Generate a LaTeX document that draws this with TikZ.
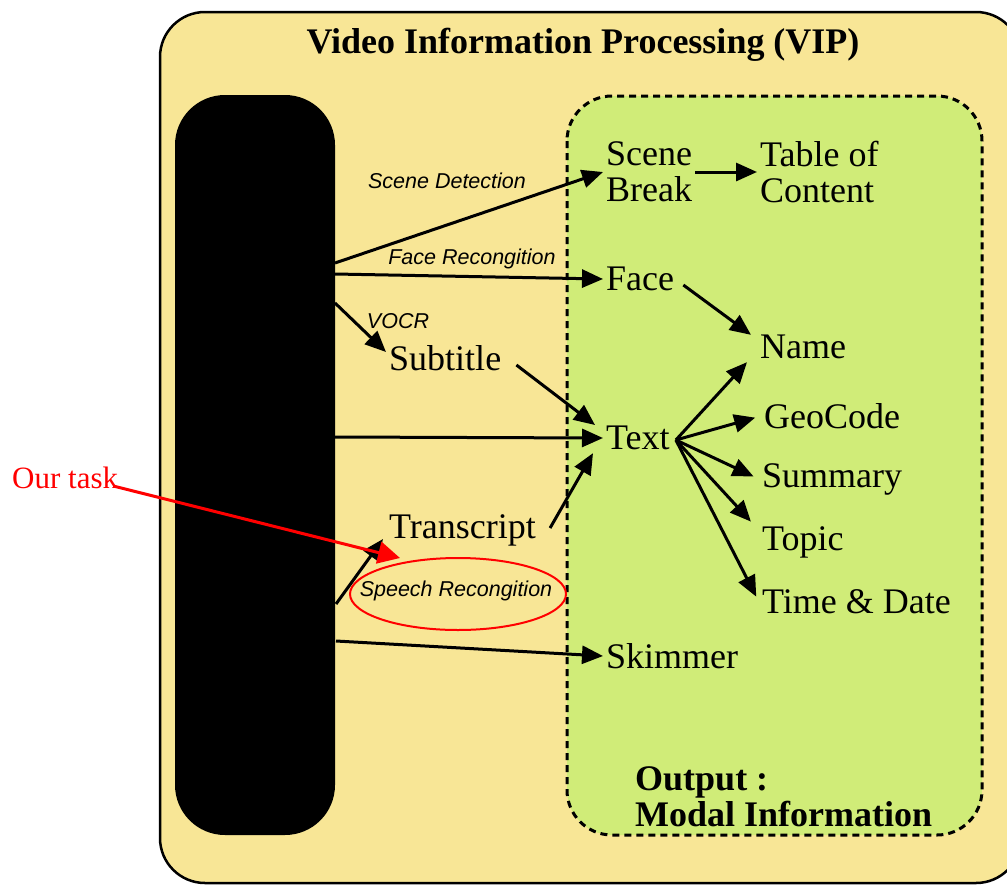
\documentclass[tikz,border=0pt]{standalone}
\usepackage{fontspec}
\setmainfont{Liberation Serif}
\setsansfont{Liberation Sans}
\usepackage{tikz}
\usetikzlibrary{arrows.meta,positioning,calc,shapes.geometric}
\definecolor{vipyellow}{RGB}{248,230,150}
\definecolor{vipgreen}{RGB}{208,236,120}

\begin{document}
\begin{tikzpicture}[x=1pt,y=-1pt,>={Triangle[length=21pt,width=18pt]},
  lbl/.style={anchor=west,inner sep=3pt,align=left,font=\fontsize{36}{36}\selectfont},
  op/.style={inner sep=1pt,font=\fontsize{21.5}{24}\sffamily\itshape\selectfont},
  arr/.style={->,line width=3pt},
  fan/.style={arr,shorten >=6pt}]
\useasboundingbox (0,0) rectangle (1007,884);
\clip (0,0) rectangle (1007,884);
% frames
\draw[line width=2.5pt,fill=vipyellow,rounded corners=45pt] (160,12) rectangle (1021,883);
\draw[line width=3pt,dash pattern=on 7pt off 5pt,fill=vipgreen,rounded corners=45pt] (567,96) rectangle (982,835);
\node[fill=black,rounded corners=50pt,minimum width=160pt,minimum height=740pt,inner sep=0pt] (V) at (255,465) {};
\node[font=\fontsize{36}{36}\bfseries\selectfont] (title) at (583,45) {Video Information Processing (VIP)};
% outputs
\node[lbl] (scene) at (603,172) {Scene\\Break};
\node[lbl] (toc)   at (757,172) {Table of\\Content};
\node[lbl] (face)  at (603,279) {Face};
\node[lbl] (name)  at (757,347) {Name};
\node[lbl] (sub)   at (386,358) {Subtitle};
\node[lbl] (txt)   at (603,438) {Text};
\node[lbl] (geo)   at (761,416) {GeoCode};
\node[lbl] (summ)  at (759,479) {Summary};
\node[lbl] (topic) at (759,542) {Topic};
\node[lbl] (td)    at (759,602) {Time \& Date};
\node[lbl] (trans) at (386,530) {Transcript};
\node[lbl] (skim)  at (603,656) {Skimmer};
\node[lbl,font=\fontsize{36}{36}\bfseries\selectfont] (out) at (632,797) {Output :\\Modal Information};
% operations
\node[op] (sd)   at (447,181) {Scene Detection};
\node[op] (fr)   at (472,259) {Face Recongition};
\node[op] (vocr) at (398,321) {VOCR};
\node[op] (sr)   at (456,591) {Speech Recongition};
\draw[red,line width=2pt] (458,594) ellipse [x radius=108pt,y radius=36pt];
\node[lbl,text=red,font=\fontsize{31}{31}\selectfont] (task) at (9,478) {Our task};
% exits of the video box
\coordinate (v1) at (335,263);
\coordinate (v2) at (335,274);
\coordinate (v3) at (335,303);
\coordinate (v4) at (335,437);
\coordinate (v5) at (336,604);
\coordinate (v6) at (336,641);
\draw[arr] (v1) -- (scene.west);
\draw[arr] (v2) -- (face.west);
\draw[arr] (v3) -- ($(sub.west)+(0,-6)$);
\draw[arr] (v4) -- (txt.west);
\draw[arr] (v5) -- ($(trans.west)+(-3,9)$);
\draw[arr] (v6) -- (skim.west);
\draw[arr] ($(sub.east)+(12,7)$) -- ($(txt.west)+(-8,-13)$);
\draw[arr] ($(trans.east)+(11,-2)$) -- ($(txt.south west)+(-10,0)$);
\draw[arr] (scene.east) -- (toc.west);
\draw[arr] ($(face.east)+(6,6)$) -- ($(name.north west)+(-6,3)$);
% text fans out
\coordinate (hub) at ($(txt.east)+(3,2)$);
\draw[arr] (hub) -- ($(name.south west)+(-10,0)$);
\draw[fan] (hub) -- (geo.west);
\draw[fan] (hub) -- (summ.west);
\draw[fan] (hub) -- ($(topic.north west)+(-4,3)$);
\draw[fan] (hub) -- (td.west);
\draw[red,line width=3pt,-{Triangle[length=22pt,width=22pt]}] ($(task.east)+(-8,8)$) -- ($(sr.center)+(-56,-33)$);
\end{tikzpicture}
\end{document}
